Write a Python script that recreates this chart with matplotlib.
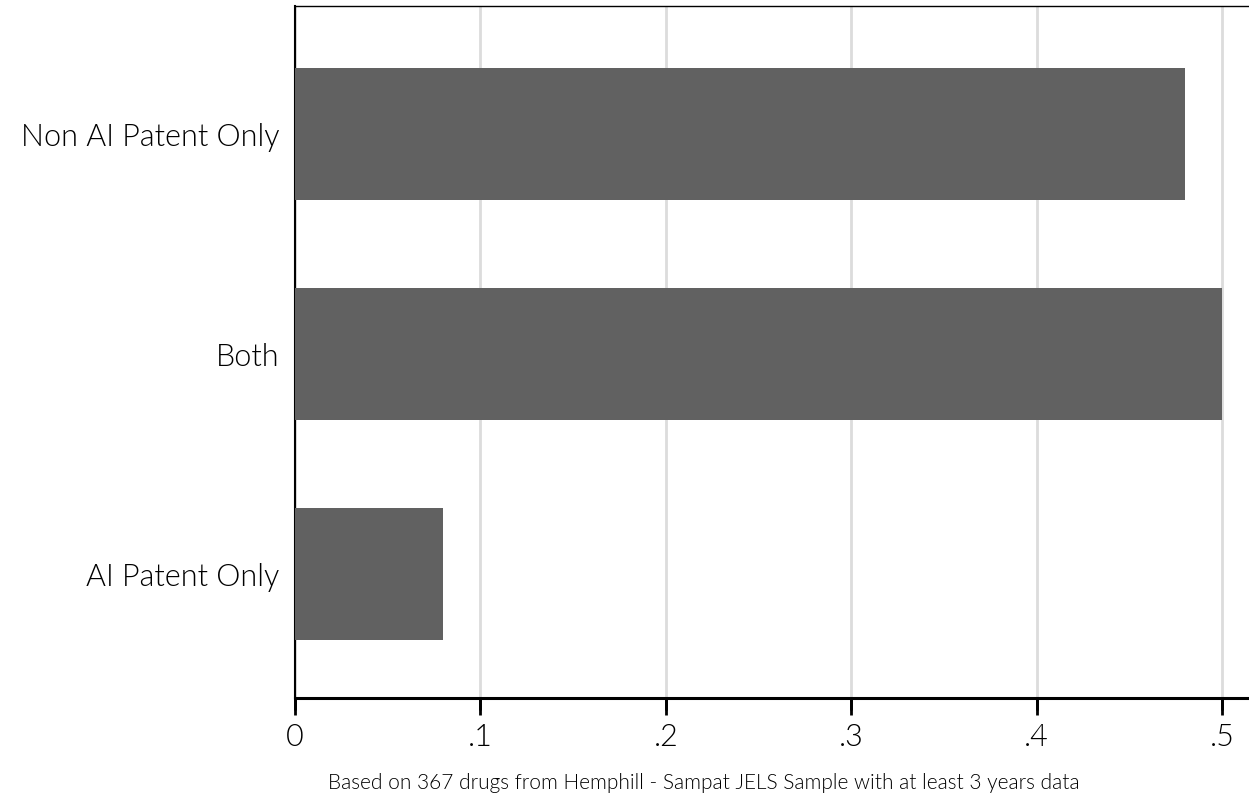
import matplotlib.pyplot as plt

categories = ["AI Patent Only", "Both", "Non AI Patent Only"]
values = [0.08, 0.50, 0.48]
xticks = [0, 0.1, 0.2, 0.3, 0.4, 0.5]
xticklabels = ["0", ".1", ".2", ".3", ".4", ".5"]
note = "Based on 367 drugs from Hemphill - Sampat JELS Sample with at least 3 years data"

plt.rcParams['font.family'] = ['Lato', 'DejaVu Sans']
plt.rcParams['text.color'] = 'black'

fig = plt.figure(figsize=(12.49, 7.99), dpi=100)
ax = fig.add_axes([0.2362, 0.1264, 0.7638, 0.8661])

ax.barh(range(len(categories)), values, height=0.6, color="#616161", zorder=3)

ax.set_xlim(0, 0.5146)
ax.set_ylim(-0.5636, 2.582)
ax.set_xticks(xticks)
ax.set_xticklabels(xticklabels, fontsize=22, color="black", fontweight=300)
ax.set_yticks(range(len(categories)))
ax.set_yticklabels(categories, fontsize=22, color="black", fontweight=300)
ax.tick_params(axis="y", length=0, pad=11)
ax.tick_params(axis="x", which="major", bottom=True, length=12, width=2,
               color="black", direction="out", pad=6)

# tick marks below the x axis, drawn at the tick values
ax.vlines(xticks, -12 / 692, 0, transform=ax.get_xaxis_transform(),
          colors="black", linewidth=2, clip_on=False, zorder=4)

ax.grid(axis="x", color="#dcdcdc", linewidth=2)
ax.set_axisbelow(True)
ax.spines["right"].set_visible(False)
ax.spines["top"].set_linewidth(1.0)
ax.spines["left"].set_linewidth(1.5)
ax.spines["bottom"].set_linewidth(2.2)

fig.text(0.5637, 0.02, note, fontsize=15, ha="center", va="center",
         color="black", fontweight=300)

fig.savefig("out.png", dpi=100)
